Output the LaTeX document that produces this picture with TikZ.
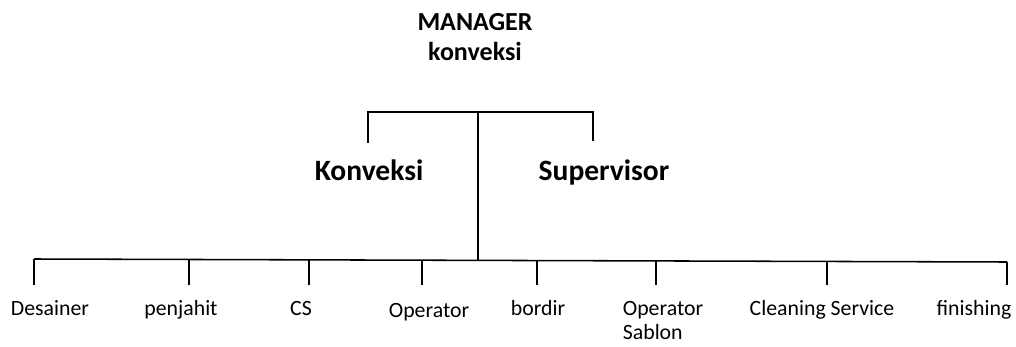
\documentclass[tikz,border=0pt]{standalone}
\usepackage{fontspec}
\setmainfont{Carlito}
\usetikzlibrary{positioning,calc}

\begin{document}
\begin{tikzpicture}[x=0.025cm,y=-0.025cm,
        line/.style={line width=1.1pt,black},
        head/.style={font=\fontsize{18.5}{22}\selectfont\bfseries,align=center,anchor=base},
        unit/.style={font=\fontsize{21}{24}\selectfont\bfseries,anchor=base},
        staff/.style={font=\fontsize{15.5}{16.5}\selectfont,align=left,anchor=base}]
        \useasboundingbox (0,0) rectangle (1016,347);

        % Top: manager
        \node[head] (mgr) at (475,61) {MANAGER\\konveksi};

        % Upper bracket
        \coordinate (top) at (478,112);
        \coordinate (kl) at (368,112);
        \coordinate (sr) at (593,112);
        \coordinate (kt) at (368,143);
        \coordinate (st) at (593,141);
        \draw[line] (kt) -- (kl) -- (sr) -- (st);

        \node[unit] (konv) at (369,180) {Konveksi};
        \node[unit] (sup) at (604,180) {Supervisor};

        % Bottom bar
        \coordinate (mid) at (478,260);
        \coordinate (bl) at (34,259);
        \coordinate (br) at (1007,262);
        \draw[line] (top) -- (mid);
        \draw[line] (bl) -- (br);

        % Staff
        \foreach \n/\x/\y/\lx/\ly/\txt in {
            des/34/259/50/315/Desainer,
            pen/189/259.5/181/315/penjahit,
            cs/309/260/301/315/CS,
            op/422/260.5/429/317/Operator,
            bor/537/261/538/315/bordir,
            sab/656/261/663/339/{Operator\\Sablon},
            cls/827/261.5/822/315/Cleaning Service,
            fin/1007/262/974/315/finishing} {
            \coordinate (\n-a) at (\x,\y);
            \coordinate (\n-b) at (\x,285);
            \draw[line] (\n-a) -- (\n-b);
            \node[staff] (\n) at (\lx,\ly) {\txt};
        }
    \end{tikzpicture}
\end{document}
